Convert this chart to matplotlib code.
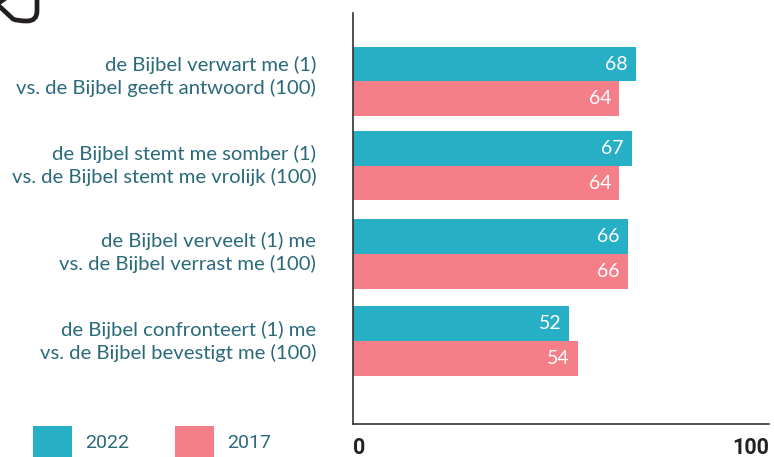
import matplotlib
matplotlib.use("Agg")
import matplotlib.pyplot as plt
from matplotlib.patches import PathPatch, Rectangle
from matplotlib.path import Path

labels = [
    "de Bijbel verwart me (1)\nvs. de Bijbel geeft antwoord (100)",
    "de Bijbel stemt me somber (1)\nvs. de Bijbel stemt me vrolijk (100)",
    "de Bijbel verveelt (1) me\nvs. de Bijbel verrast me (100)",
    "de Bijbel confronteert (1) me\nvs. de Bijbel bevestigt me (100)",
]
vals_2022 = [68, 67, 66, 52]
vals_2017 = [64, 64, 66, 54]

TEAL = "#27afc6"
PINK = "#f47f89"
TXT = "#2a6a7a"
W, H = 774, 457

fig = plt.figure(figsize=(W / 100, H / 100), dpi=100)
ax = fig.add_axes([353 / W, 1 - 424 / H, (769 - 353) / W, (424 - 13) / H])
# group centres are not quite evenly spaced in the original,
# and the labels sit a little above the bars
ys = [0, 0.975, 1.995, 3]
label_ys = [-0.104, 0.922, 1.931, 2.96]
ax.barh([y - 0.2 for y in ys], vals_2022, height=0.4, color=TEAL)
ax.barh([y + 0.2 for y in ys], vals_2017, height=0.4, color=PINK)
ax.set_xlim(0, 100)
ax.set_ylim(3.96, -0.79)

for y, a, b in zip(ys, vals_2022, vals_2017):
    ax.text(a - 1.9, y - 0.2, str(a), color="white", ha="right", va="center",
            fontsize=14, family="Lato")
    ax.text(b - 1.9, y + 0.2, str(b), color="white", ha="right", va="center",
            fontsize=14, family="Lato")

ax.spines["top"].set_visible(False)
ax.spines["right"].set_visible(False)
ax.spines["left"].set_color("#333333")
ax.spines["bottom"].set_color("#333333")
ax.spines["left"].set_linewidth(1.2)
ax.spines["bottom"].set_linewidth(1.2)
ax.set_yticks(label_ys)
ax.set_yticklabels(labels, fontsize=14.6, color=TXT, family="Lato", linespacing=1.34)
ax.tick_params(axis="y", length=0, pad=26.5)
ax.set_xticks([0, 100])
ax.set_xticklabels(["0", "100"], fontsize=15.5, fontweight="bold", color="#222222",
                   family="Roboto")
ax.tick_params(axis="x", length=0, pad=9)
ax.get_xticklabels()[0].set_ha("left")
ax.get_xticklabels()[1].set_ha("right")

# legend, placed by hand like the original
for x0, col, name in [(33, TEAL, "2022"), (175, PINK, "2017")]:
    fig.add_artist(Rectangle((x0 / W, 1 - 457 / H), 39 / W, 31 / H,
                             transform=fig.transFigure, color=col, lw=0))
    fig.text((x0 + 52) / W, 1 - 443 / H, name, color=TXT, fontsize=14,
             family="Roboto", va="center")

# cropped icon corner top left
verts = [(-2, 5), (13, 19), (17, 21), (27, 21), (37, 21), (37, 11), (37, -2)]
codes = [Path.MOVETO, Path.LINETO, Path.CURVE3, Path.CURVE3,
         Path.CURVE3, Path.CURVE3, Path.LINETO]
pts = [(x / W, 1 - y / H) for x, y in verts]
fig.add_artist(PathPatch(Path(pts, codes), fill=False, ec="#231f20", lw=3.4,
                         transform=fig.transFigure))
wedge = [(0, 0), (7, 0), (0, 5), (0, 0)]
fig.add_artist(plt.Polygon([(x / W, 1 - y / H) for x, y in wedge], color="#231f20",
                           lw=0, transform=fig.transFigure))

fig.savefig("out.png", dpi=100)
